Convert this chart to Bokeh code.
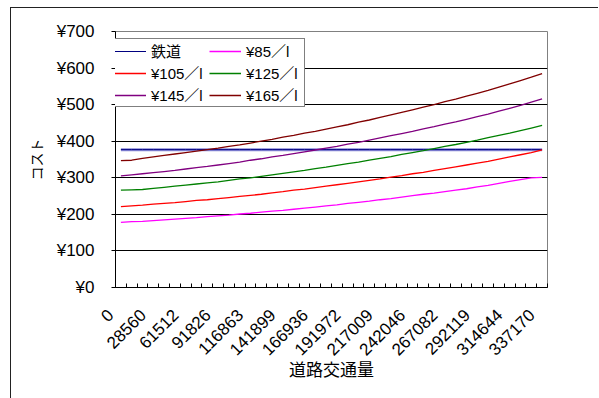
from bokeh.plotting import figure
from bokeh.models import Range1d, FixedTicker, PrintfTickFormatter, Legend, LegendItem
from bokeh.embed import file_html
from bokeh.resources import INLINE

# ---------------- data ----------------
n_points = 40
traffic_labels = ["0", "28560", "61512", "91826", "116863", "141899", "166936",
                  "191972", "217009", "242046", "267082", "292119", "314644", "337170"]
label_every = 3

rail = [377, 377, 377, 377, 377, 377, 377, 377, 377, 377,
        377, 377, 377, 377, 377, 377, 377, 377, 377, 377,
        377, 377, 377, 377, 377, 377, 377, 377, 377, 377,
        377, 377, 377, 377, 377, 377, 377, 377, 377, 377]
car_85 = [178, 180, 181, 183, 185, 187, 189, 191, 194, 196,
          198, 201, 203, 206, 209, 211, 214, 217, 220, 223,
          226, 230, 233, 236, 240, 243, 247, 251, 255, 258,
          262, 266, 270, 275, 279, 285, 290, 295, 300, 301]
car_105 = [221, 223, 225, 228, 230, 232, 235, 238, 240, 243,
           246, 249, 252, 255, 259, 262, 266, 269, 273, 277,
           281, 285, 289, 293, 297, 302, 306, 311, 315, 320,
           325, 330, 335, 340, 345, 351, 357, 363, 369, 376]
car_125 = [266, 267, 268, 271, 274, 277, 280, 283, 286, 289,
           293, 297, 300, 304, 308, 312, 316, 320, 325, 329,
           334, 339, 343, 348, 353, 358, 364, 369, 374, 380,
           386, 391, 397, 403, 410, 416, 422, 429, 436, 443]
car_145 = [305, 308, 311, 314, 317, 320, 324, 328, 331, 335,
           339, 343, 348, 352, 357, 361, 366, 371, 376, 381,
           386, 392, 397, 403, 409, 415, 421, 427, 434, 440,
           447, 453, 460, 467, 474, 482, 490, 498, 507, 516]
car_165 = [347, 348, 353, 357, 361, 365, 369, 373, 377, 381,
           386, 390, 395, 400, 405, 411, 416, 422, 427, 433,
           439, 445, 452, 458, 465, 472, 479, 486, 493, 500,
           508, 515, 523, 531, 539, 548, 557, 566, 575, 585]

series_names = ["¥85／l", "¥105／l", "¥125／l", "¥145／l", "¥165／l"]
series_values = [car_85, car_105, car_125, car_145, car_165]
series_colors = ["#FF00FF", "#FF0000", "#008000", "#800080", "#800000"]
y_ticks = [0, 100, 200, 300, 400, 500, 600, 700]

# ---------------- figure ----------------
FONT = "'Liberation Sans', 'Noto Sans CJK JP', sans-serif"
x = list(range(n_points))

p = figure(width=588, height=391, output_backend="svg", toolbar_location=None,
           x_range=Range1d(-0.5, n_points - 0.5), y_range=Range1d(0, 700),
           min_border_left=104, min_border_right=52, min_border_top=23,
           min_border_bottom=112)
p.margin = (7, 0, 0, 10)
p.styles = {"border-left": "1px solid #222", "border-top": "1px solid #222"}
p.background_fill_color = "white"
p.border_fill_color = "white"
p.outline_line_color = "#808080"
p.outline_line_width = 1

# grid
p.xgrid.visible = False
p.ygrid.grid_line_color = "#000000"
p.ygrid.grid_line_width = 1

# y axis
p.yaxis.ticker = FixedTicker(ticks=y_ticks)
p.yaxis.formatter = PrintfTickFormatter(format="¥%d")
p.yaxis.major_tick_out = 4
p.yaxis.major_tick_in = 0
p.yaxis.minor_tick_out = 0
p.yaxis.minor_tick_in = 0
p.yaxis.major_label_standoff = 17
p.yaxis.axis_label = "コスト"
p.yaxis.axis_label_standoff = 9
p.yaxis.axis_label_text_font_size = "14px"
p.yaxis.axis_label_text_font_style = "normal"

# x axis (labels on every third category, tick marks between categories)
pad = "\u00a0\u00a0\u00a0"
label_pos = [i * label_every for i in range(len(traffic_labels))]
bounds = [i - 0.5 for i in range(n_points + 1)]
p.xaxis.ticker = FixedTicker(ticks=label_pos, minor_ticks=bounds)
p.xaxis.major_label_overrides = {pos: lab + pad for pos, lab in zip(label_pos, traffic_labels)}
p.xaxis.major_tick_out = 0
p.xaxis.major_tick_in = 0
p.xaxis.minor_tick_in = 4
p.xaxis.minor_tick_out = 0
p.xaxis.major_label_orientation = 0.785398
p.xaxis.major_label_standoff = 15
p.xaxis.axis_label = "道路交通量"
p.xaxis.axis_label_standoff = -8
p.xaxis.axis_label_text_font_size = "17px"
p.xaxis.axis_label_text_font_style = "normal"

for ax in (p.xaxis[0], p.yaxis[0]):
    ax.axis_line_color = "black"
    ax.major_tick_line_color = "black"
    ax.minor_tick_line_color = "black"
    ax.major_label_text_font = FONT
    ax.major_label_text_font_size = "17px"
    ax.major_label_text_color = "black"
    ax.axis_label_text_font = FONT
    ax.axis_label_text_color = "black"

# lines
p.line(x, rail, line_color="#8a8ad8", line_width=3)
r_rail = p.line(x, rail, line_color="#000080", line_width=1)
items = [LegendItem(label="鉄道", renderers=[r_rail])]
for name, vals, col in zip(series_names, series_values, series_colors):
    r = p.line(x, vals, line_color=col, line_width=1.3)
    items.append(LegendItem(label=name, renderers=[r]))

legend = Legend(items=items, location=(-3, 180), orientation="horizontal", ncols=2)
legend.label_text_font = FONT
legend.label_text_font_size = "15px"
legend.label_text_color = "black"
legend.glyph_width = 32
legend.glyph_height = 20
legend.label_height = 20
legend.label_width = 57
legend.label_standoff = 5
legend.spacing = 1
legend.padding = 1
legend.margin = 0
legend.border_line_color = "black"
legend.border_line_width = 1
legend.background_fill_color = "white"
legend.background_fill_alpha = 1
p.add_layout(legend)

open("out.html", "w").write(file_html(p, INLINE))
